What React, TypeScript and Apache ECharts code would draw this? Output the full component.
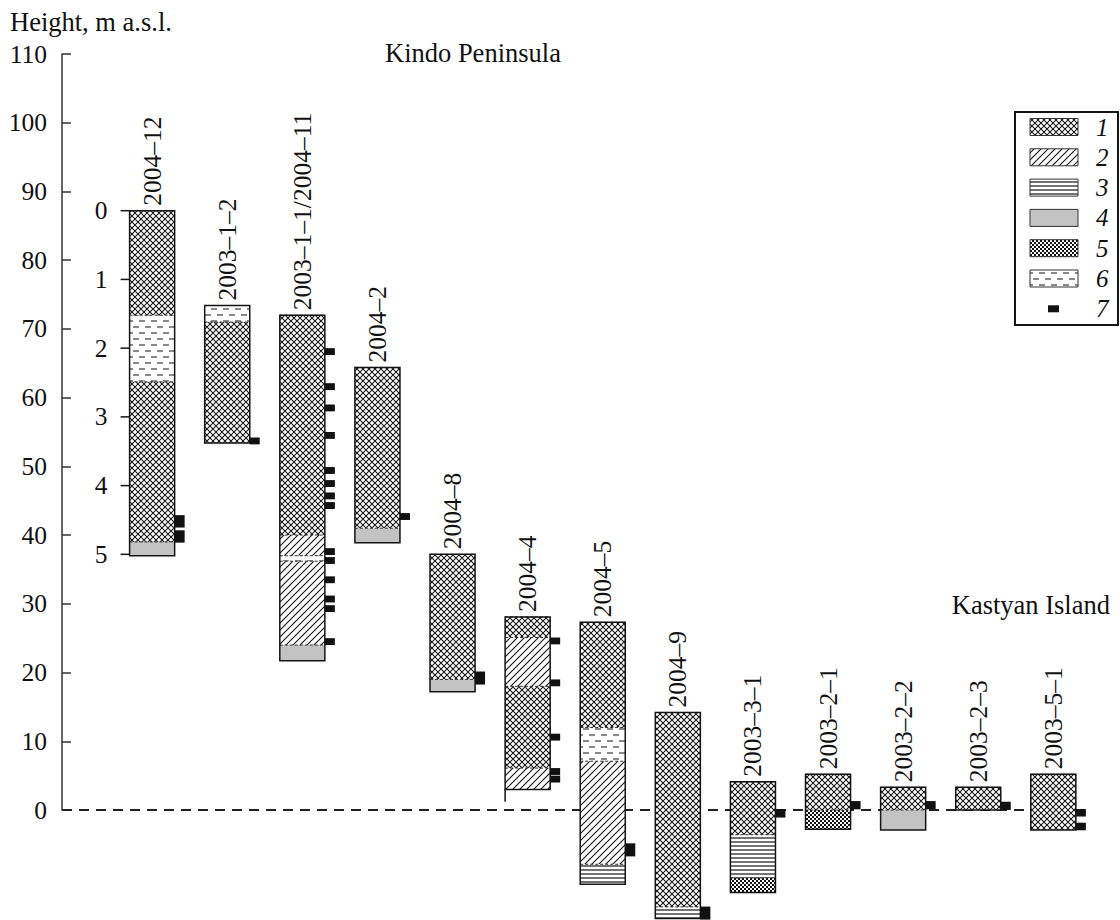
import React, { useEffect, useRef } from "react";
import * as echarts from "echarts";

// ---------- data ----------
const columnNames = [
  "2004–12", "2003–1–2", "2003–1–1/2004–11", "2004–2", "2004–8", "2004–4", "2004–5",
  "2004–9", "2003–3–1", "2003–2–1", "2003–2–2", "2003–2–3", "2003–5–1",
];

// layers of each section: column index, top & bottom height (m a.s.l.), lithology type 1..6
const layerColumn = [0, 0, 0, 0, 1, 1, 2, 2, 2, 2, 2, 3, 3, 4, 4, 5, 5, 5, 5, 6, 6, 6, 6, 7, 7, 8, 8, 8, 9, 9, 10, 10, 11, 12];
const layerTop = [87.2, 72.0, 62.3, 39.0, 73.4, 71.0, 72.0, 40.0, 37.0, 36.2, 24.0, 64.4, 41.0, 37.2, 19.0, 28.1, 25.1, 18.0, 6.1, 27.3, 12.0, 7.1, -7.9, 14.2, -14.1, 4.1, -3.6, -9.9, 5.2, 0, 3.3, 0, 3.3, 5.2];
const layerBottom = [72.0, 62.3, 39.0, 37.0, 71.0, 53.4, 40.0, 37.0, 36.2, 24.0, 21.7, 41.0, 38.9, 19.0, 17.2, 25.1, 18.0, 6.1, 3.0, 12.0, 7.1, -7.9, -10.8, -14.1, -15.8, -3.6, -9.9, -12.0, 0, -2.8, 0, -2.9, 0, -2.9];
const layerType = [1, 6, 1, 4, 6, 1, 1, 2, 6, 2, 4, 1, 4, 1, 4, 1, 2, 1, 2, 1, 6, 2, 3, 1, 3, 1, 3, 5, 1, 5, 1, 4, 1, 1];

// sampling points (legend item 7): column, height of sample centre, sampled thickness (m)
const markerColumn = [0, 0, 1, 2, 2, 2, 2, 2, 2, 2, 2, 2, 2, 2, 2, 2, 2, 3, 4, 5, 5, 5, 5, 5, 6, 7, 8, 9, 10, 11, 12, 12];
const markerHeight = [42.0, 39.8, 53.7, 66.7, 61.6, 58.5, 54.5, 49.4, 47.5, 45.7, 44.3, 37.6, 36.3, 33.5, 30.7, 29.3, 24.5, 42.7, 19.2, 24.6, 18.5, 10.6, 5.6, 4.5, -5.8, -15.0, -0.5, 0.7, 0.7, 0.6, -0.4, -2.4];
const markerSpan = [1.8, 1.8, 1.0, 1.0, 1.0, 1.0, 1.0, 1.0, 1.0, 1.0, 1.0, 1.0, 1.0, 1.0, 1.0, 1.0, 1.0, 1.0, 1.9, 1.0, 1.0, 1.0, 1.0, 1.0, 1.9, 1.9, 1.2, 1.2, 1.2, 1.2, 1.1, 1.1];

// left border of section 2004-4 continues below the described part
const stemColumn = [5];
const stemBottom = [1.2];

// depth scale (m below surface) beside section 2004-12
const depthTicks = [0, 1, 2, 3, 4, 5];
const depthToHeight = 10;

const yTicksMin = 0;
const yTicksMax = 110;
const yTickStep = 10;

const legendLabels = ["1", "2", "3", "4", "5", "6", "7"];

// ---------- styles ----------
const FONT = '"Liberation Serif", "Times New Roman", serif';
const INK = "#141414";
const HALF = 0.3;

function svgUrl(w: number, h: number, body: string) {
  const s = `<svg xmlns="http://www.w3.org/2000/svg" width="${w}" height="${h}">${body}</svg>`;
  return "data:image/svg+xml;charset=utf-8," + encodeURIComponent(s);
}
function pat(w: number, h: number, body: string): any {
  return { image: svgUrl(w, h, body), repeat: "repeat", imageWidth: w, imageHeight: h };
}

const fills: Record<number, any> = {
  1: pat(6, 6, `<rect width="6" height="6" fill="#fff"/><path d="M0 0L6 6M6 0L0 6" stroke="${INK}" stroke-width="1.05"/>`),
  2: pat(7, 7, `<rect width="7" height="7" fill="#fff"/><path d="M0 7L7 0M-1 1L1 -1M6 8L8 6" stroke="${INK}" stroke-width="1.1"/>`),
  3: pat(4, 4, `<rect width="4" height="4" fill="#fff"/><path d="M0 2H4" stroke="${INK}" stroke-width="1.2"/>`),
  4: "#c3c3c3",
  5: pat(4, 4, `<rect width="4" height="4" fill="#fff"/><rect width="2" height="2" fill="#111"/><rect x="2" y="2" width="2" height="2" fill="#111"/>`),
  6: pat(12, 12, `<rect width="12" height="12" fill="#fff"/><path d="M1 3H7M7 9H12M0 9H1" stroke="${INK}" stroke-width="1.1"/>`),
};

// derived
const columnTop = columnNames.map((_, c) =>
  Math.max(...layerTop.filter((_, i) => layerColumn[i] === c))
);
const columnBottom = columnNames.map((_, c) =>
  Math.min(...layerBottom.filter((_, i) => layerColumn[i] === c))
);

function buildOption(): any {
  const layerData = layerColumn.map((c, i) => [c, layerTop[i], layerBottom[i], layerType[i]]);
  const outlineData = columnNames.map((_, c) => [c, columnTop[c], columnBottom[c]]);
  const markerData = markerColumn.map((c, i) => [c, markerHeight[i], markerSpan[i]]);
  const labelData = columnNames.map((_, c) => [c, columnTop[c]]);
  const stemData = stemColumn.map((c, i) => [c, columnBottom[c], stemBottom[i]]);
  const depthData = depthTicks.map((d) => [0, columnTop[0] - d * depthToHeight, d]);

  const legendRowY = legendLabels.map((_, i) => 127 + i * 30.3);
  const legendGraphics: any[] = [
    {
      type: "rect",
      shape: { x: 1015, y: 112, width: 103, height: 213 },
      style: { fill: "#fff", stroke: INK, lineWidth: 2 },
    },
  ];
  legendLabels.forEach((lab, i) => {
    const y = legendRowY[i];
    if (i < 6) {
      legendGraphics.push({
        type: "rect",
        shape: { x: 1030, y: y - 8.5, width: 48, height: 17 },
        style: { fill: fills[i + 1], stroke: "#333", lineWidth: 1 },
      });
    } else {
      legendGraphics.push({
        type: "rect",
        shape: { x: 1048, y: y - 3.5, width: 11, height: 7 },
        style: { fill: "#111" },
      });
    }
    legendGraphics.push({
      type: "text",
      x: 1096,
      y,
      style: {
        text: lab,
        font: `italic 25px ${FONT}`,
        fill: "#111",
        align: "left",
        verticalAlign: "middle",
      },
    });
  });

  return {
    animation: false,
    backgroundColor: "#fff",
    grid: { left: 62, top: 54, width: 1036.4, height: 756, containLabel: false },
    xAxis: { type: "value", min: -1.2, max: 12.6, show: false },
    yAxis: {
      type: "value",
      min: yTicksMin,
      max: yTicksMax,
      interval: yTickStep,
      axisLine: { show: true, onZero: false, lineStyle: { color: "#333", width: 1.5 } },
      axisTick: { show: true, inside: true, length: 9, lineStyle: { color: "#333", width: 1.5 } },
      axisLabel: { fontSize: 25.5, fontFamily: FONT, color: "#111", margin: 15 },
      splitLine: { show: false },
    },
    graphic: [
      {
        type: "text",
        x: 10,
        y: 22,
        style: { text: "Height, m a.s.l.", font: `26.5px ${FONT}`, fill: "#111", verticalAlign: "middle" },
      },
      {
        type: "text",
        x: 385,
        y: 53,
        style: { text: "Kindo Peninsula", font: `26.5px ${FONT}`, fill: "#111", verticalAlign: "middle" },
      },
      {
        type: "text",
        x: 1110,
        y: 605,
        style: { text: "Kastyan Island", font: `26.5px ${FONT}`, fill: "#111", align: "right", verticalAlign: "middle" },
      },
      ...legendGraphics,
    ],
    series: [
      {
        type: "line",
        z: 1,
        silent: true,
        symbol: "none",
        data: [[-1.2, 0], [12 - HALF, 0]],
        lineStyle: { color: "#222", width: 2, type: [10, 7] },
      },
      {
        type: "custom",
        z: 3,
        silent: true,
        data: layerData,
        renderItem: (_p: any, api: any) => {
          const c = api.value(0);
          const t = api.value(3);
          const a = api.coord([c - HALF, api.value(1)]);
          const b = api.coord([c + HALF, api.value(2)]);
          return {
            type: "group",
            children: [
              {
                type: "rect",
                shape: { x: a[0], y: a[1], width: b[0] - a[0], height: b[1] - a[1] },
                style: { fill: fills[t], stroke: null },
              },
              {
                type: "line",
                shape: { x1: a[0], y1: a[1], x2: b[0], y2: a[1] },
                style: { stroke: "#333", lineWidth: 1, lineDash: [3, 2] },
              },
            ],
          };
        },
      },
      {
        type: "custom",
        z: 4,
        silent: true,
        data: outlineData,
        renderItem: (_p: any, api: any) => {
          const c = api.value(0);
          const a = api.coord([c - HALF, api.value(1)]);
          const b = api.coord([c + HALF, api.value(2)]);
          return {
            type: "rect",
            shape: { x: a[0], y: a[1], width: b[0] - a[0], height: b[1] - a[1] },
            style: { fill: "none", stroke: INK, lineWidth: 1.5 },
          };
        },
      },
      {
        type: "custom",
        z: 4,
        silent: true,
        data: stemData,
        renderItem: (_p: any, api: any) => {
          const c = api.value(0);
          const a = api.coord([c - HALF, api.value(1)]);
          const b = api.coord([c - HALF, api.value(2)]);
          return {
            type: "line",
            shape: { x1: a[0], y1: a[1], x2: b[0], y2: b[1] },
            style: { stroke: INK, lineWidth: 1.5 },
          };
        },
      },
      {
        type: "custom",
        z: 5,
        silent: true,
        data: markerData,
        renderItem: (_p: any, api: any) => {
          const c = api.value(0);
          const h = api.value(1);
          const s = api.value(2);
          const a = api.coord([c + HALF, h + s / 2]);
          const b = api.coord([c + HALF, h - s / 2]);
          return {
            type: "rect",
            shape: { x: a[0], y: a[1], width: 10, height: b[1] - a[1] },
            style: { fill: "#111" },
          };
        },
      },
      {
        type: "custom",
        z: 5,
        silent: true,
        data: labelData,
        renderItem: (p: any, api: any) => {
          const c = api.value(0);
          const a = api.coord([c, api.value(1)]);
          return {
            type: "text",
            x: a[0],
            y: a[1] - 5,
            rotation: Math.PI / 2,
            style: {
              text: columnNames[p.dataIndex],
              font: `25.5px ${FONT}`,
              fill: "#111",
              align: "left",
              verticalAlign: "middle",
            },
          };
        },
      },
      {
        type: "custom",
        z: 5,
        silent: true,
        data: depthData,
        renderItem: (_p: any, api: any) => {
          const c = api.value(0);
          const a = api.coord([c - HALF, api.value(1)]);
          return {
            type: "group",
            children: [
              {
                type: "line",
                shape: { x1: a[0] - 9, y1: a[1], x2: a[0], y2: a[1] },
                style: { stroke: INK, lineWidth: 1.5 },
              },
              {
                type: "text",
                x: a[0] - 22,
                y: a[1],
                style: {
                  text: String(api.value(2)),
                  font: `25.5px ${FONT}`,
                  fill: "#111",
                  align: "right",
                  verticalAlign: "middle",
                },
              },
            ],
          };
        },
      },
    ],
  };
}

export default function App() {
  const ref = useRef<HTMLDivElement>(null);
  useEffect(() => {
    if (!ref.current) return;
    const chart = echarts.init(ref.current, null, { renderer: "svg" });
    chart.setOption(buildOption());
    return () => chart.dispose();
  }, []);
  return (
    <div
      ref={ref}
      style={{ position: "absolute", left: 0, top: 0, width: 1120, height: 920, background: "#fff" }}
    />
  );
}
